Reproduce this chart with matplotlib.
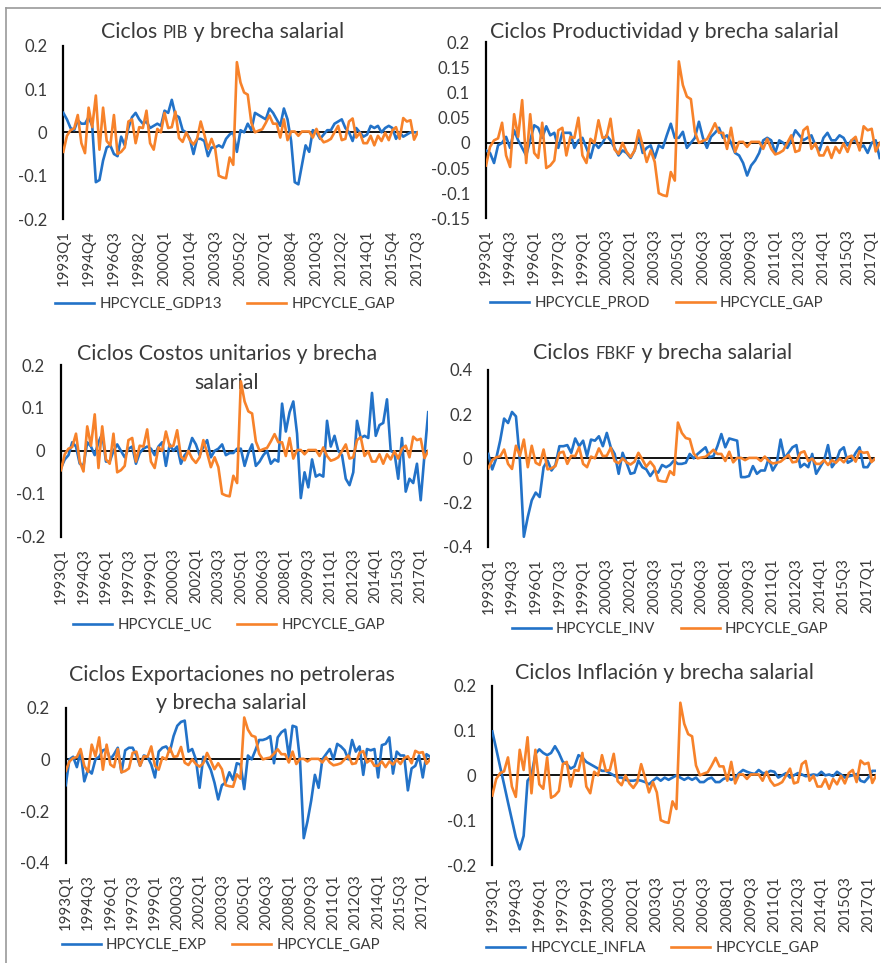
import matplotlib
matplotlib.use('Agg')
import matplotlib.pyplot as plt
from matplotlib.offsetbox import TextArea, HPacker, AnnotationBbox
from matplotlib.lines import Line2D

plt.rcParams['font.family'] = ['Lato', 'DejaVu Sans']

# ---------------- data ----------------
quarters = [f"{1993 + i // 4}Q{i % 4 + 1}" for i in range(99)]

gap = [-0.045, -0.008, 0.005, 0.009, 0.04, -0.025, -0.048, 0.057, 0.012, 0.085,
       -0.04, 0.057, -0.02, -0.03, 0.04, -0.05, -0.045, -0.035, 0.025, 0.03,
       -0.025, 0.012, 0.01, 0.05, -0.025, -0.04, 0.008, 0.0, 0.045, 0.01,
       0.012, 0.048, -0.013, -0.022, 0.0, -0.018, -0.028, -0.015, 0.025, -0.005,
       -0.038, -0.015, -0.038, -0.1, -0.104, -0.106, -0.058, -0.075, 0.162, 0.115,
       0.092, 0.087, 0.022, 0.0, 0.004, 0.007, 0.022, 0.039, 0.02, 0.02,
       -0.012, 0.03, -0.018, 0.002, 0.002, -0.008, 0.002, 0.002, 0.002, -0.012,
       0.008, -0.012, -0.023, -0.02, -0.015, 0.0, 0.015, -0.018, -0.015, 0.025,
       0.032, -0.012, -0.001, -0.025, -0.025, -0.008, -0.03, -0.008, -0.02, -0.001,
       -0.018, 0.005, 0.012, -0.015, 0.033, 0.025, 0.028, -0.017, 0.0]

gdp13 = [0.045, 0.03, 0.01, 0.005, 0.028, 0.02, 0.02, 0.035, 0.015, -0.115,
         -0.11, -0.065, -0.035, -0.03, -0.05, -0.055, -0.01, -0.03, 0.01, 0.035,
         0.045, 0.03, 0.02, 0.025, 0.01, 0.015, 0.02, 0.015, 0.05, 0.045,
         0.075, 0.04, 0.035, 0.005, 0.0, -0.015, -0.05, -0.015, -0.015, -0.02,
         -0.055, -0.035, -0.035, -0.03, -0.035, -0.015, -0.005, 0.0, -0.045, 0.005,
         0.0, 0.02, 0.005, 0.045, 0.04, 0.035, 0.03, 0.055, 0.045, 0.03,
         0.015, 0.055, 0.03, -0.02, -0.115, -0.12, -0.075, -0.03, -0.045, 0.005,
         0.0, -0.015, -0.005, 0.005, 0.005, 0.02, 0.025, 0.03, 0.01, 0.0,
         -0.02, 0.01, 0.0, -0.01, -0.005, 0.015, 0.01, 0.015, 0.0, 0.01,
         0.015, 0.01, -0.015, 0.0, -0.01, -0.005, 0.0, 0.0, 0.0]

prod = [-0.015, -0.02, -0.04, -0.005, 0.0, 0.012, -0.01, 0.025, 0.005, -0.01,
        -0.025, 0.005, 0.035, 0.03, 0.01, 0.033, 0.015, 0.02, -0.01, 0.02,
        0.02, 0.02, -0.01, 0.005, 0.01, -0.01, -0.03, 0.0, -0.01, 0.0,
        0.015, 0.005, -0.01, -0.025, -0.015, -0.02, -0.03, -0.015, 0.015, -0.02,
        -0.01, -0.005, -0.03, -0.005, -0.01, 0.015, 0.038, 0.01, 0.01, 0.022,
        -0.01, 0.0, 0.01, 0.042, 0.01, -0.01, 0.012, 0.02, 0.03, 0.01,
        0.015, 0.0, -0.02, -0.025, -0.04, -0.065, -0.045, -0.035, -0.02, 0.005,
        0.01, 0.005, -0.02, 0.005, 0.0, -0.01, 0.005, 0.025, 0.015, 0.005,
        0.01, 0.015, -0.005, -0.015, 0.01, 0.02, 0.005, 0.005, 0.015, 0.01,
        -0.005, 0.005, 0.005, -0.01, -0.005, -0.02, 0.0, 0.005, -0.03]

uc = [-0.04, -0.02, -0.01, 0.02, 0.01, -0.03, -0.035, 0.02, 0.01, -0.01,
      0.02, 0.04, -0.025, -0.025, 0.0, 0.015, 0.0, -0.015, 0.005, 0.01,
      -0.03, -0.005, 0.005, 0.01, 0.005, -0.01, 0.01, 0.02, -0.035, 0.015,
      0.0, 0.01, -0.03, -0.01, 0.0, 0.03, 0.015, -0.01, 0.01, 0.025,
      -0.015, 0.0, 0.005, 0.015, -0.01, -0.005, -0.005, 0.005, 0.005, -0.035,
      -0.005, 0.015, -0.035, -0.025, -0.01, 0.0, -0.03, -0.02, -0.025, 0.11,
      0.045, 0.09, 0.115, 0.04, -0.11, -0.05, -0.085, -0.02, -0.06, -0.055,
      -0.06, 0.07, 0.01, 0.035, 0.0, -0.01, -0.065, -0.08, -0.05, 0.07,
      0.03, 0.035, 0.03, 0.135, 0.035, 0.06, 0.065, 0.12, 0.0, -0.005,
      -0.065, 0.03, -0.095, -0.065, -0.075, -0.03, -0.115, -0.01, 0.09]

inv = [0.02, -0.05, 0.0, 0.08, 0.18, 0.16, 0.21, 0.19, -0.01, -0.355,
       -0.265, -0.19, -0.155, -0.175, -0.04, -0.01, -0.055, -0.03, 0.055, 0.055,
       0.06, 0.025, 0.09, 0.055, 0.08, 0.01, 0.085, 0.08, 0.1, 0.055,
       0.115, 0.05, 0.02, -0.07, 0.025, -0.02, -0.07, -0.065, -0.01, -0.04,
       -0.05, -0.08, -0.055, -0.065, -0.03, -0.04, -0.03, -0.01, -0.025, -0.025,
       -0.02, 0.02, 0.0, 0.02, 0.035, 0.05, 0.005, 0.01, 0.055, 0.11,
       0.05, 0.09, 0.085, 0.08, -0.085, -0.085, -0.08, -0.035, -0.07, -0.055,
       -0.055, 0.0, -0.055, -0.025, 0.085, 0.0, 0.025, 0.05, 0.06, -0.04,
       -0.025, -0.04, 0.02, -0.07, -0.04, -0.01, 0.06, -0.04, -0.015, 0.035,
       0.05, -0.02, -0.01, 0.025, 0.05, -0.04, -0.04, -0.01, -0.005]

exp_ = [-0.1, 0.0, 0.01, -0.03, 0.03, -0.085, -0.04, -0.055, 0.0, 0.01,
        0.035, 0.04, 0.0, 0.02, 0.045, -0.05, 0.035, 0.045, 0.045, 0.015,
        -0.025, 0.015, 0.01, -0.02, -0.07, 0.03, 0.045, 0.05, 0.03, 0.09,
        0.13, 0.145, 0.15, 0.03, 0.04, 0.0, -0.11, 0.01, -0.01, -0.04,
        -0.09, -0.155, -0.1, -0.09, -0.05, -0.08, -0.015, -0.02, -0.115, 0.015,
        0.0, 0.035, 0.075, 0.075, 0.08, 0.09, -0.015, 0.085, 0.105, 0.115,
        0.01, 0.13, 0.125, -0.005, -0.305, -0.24, -0.16, -0.06, -0.11, 0.0,
        0.02, 0.04, 0.0, 0.06, 0.05, 0.035, 0.0, 0.075, 0.03, 0.05,
        -0.06, 0.04, 0.035, 0.04, -0.07, 0.055, 0.06, 0.085, -0.055, 0.03,
        0.015, 0.015, -0.12, -0.035, -0.025, 0.015, -0.07, 0.02, 0.01]

infla = [0.098, 0.059, 0.019, -0.02, -0.06, -0.099, -0.138, -0.165, -0.135, -0.012,
         0.0, 0.048, 0.058, 0.05, 0.045, 0.05, 0.065, 0.05, 0.03, 0.025,
         0.015, 0.02, 0.045, 0.04, 0.03, 0.025, 0.02, 0.015, 0.01, 0.01,
         0.005, 0.0, -0.005, -0.005, -0.01, -0.012, -0.012, -0.01, -0.012, -0.015,
         -0.02, -0.012, -0.005, -0.012, -0.005, -0.01, -0.005, 0.0, -0.005, -0.01,
         -0.005, -0.01, -0.005, -0.015, -0.015, -0.008, -0.005, -0.015, -0.015, -0.008,
         -0.005, -0.01, -0.005, 0.005, 0.012, 0.008, 0.005, 0.003, 0.012, 0.005,
         0.005, 0.01, 0.008, -0.005, 0.0, 0.005, -0.005, 0.0, 0.005, 0.002,
         -0.002, 0.0, 0.002, 0.0, 0.008, 0.0, 0.002, -0.002, 0.008, 0.002,
         -0.005, -0.002, 0.0, 0.003, -0.012, -0.015, -0.005, 0.01, 0.01]

# ---------------- styling ----------------
W, H = 881, 963
fig = plt.figure(figsize=(W / 100, H / 100), dpi=100)
BLUE = '#2272C8'
ORANGE = '#F7822A'
TXT = '#3a3a3a'
TITLE_FS = 15.4
SMALL_FS = 12
YTICK_FS = 12
XTICK_FS = 10.8
LEG_FS = 10.8


def fx(px):
    return px / W


def fy(py):
    return 1 - py / H


def make_panel(x0, x1, ytop, ybot, series, label, ylim, yticks, ylabels,
               step, legend_xy):
    ax = fig.add_axes([fx(x0), fy(ybot), (x1 - x0) / W, (ybot - ytop) / H])
    ax.patch.set_alpha(0)
    xs = list(range(len(quarters)))
    ax.axhline(0, color='black', lw=1.3, zorder=1)
    ax.plot(xs, series, color=BLUE, lw=1.9, zorder=3, label=label)
    ax.plot(xs, gap, color=ORANGE, lw=1.9, zorder=3, label='HPCYCLE_GAP')
    ax.set_xlim(0, len(quarters) - 1)
    ax.set_ylim(*ylim)
    ax.set_yticks(yticks)
    ax.set_yticklabels(ylabels)
    ticks = list(range(0, len(quarters), step))
    ax.set_xticks(ticks)
    ax.set_xticklabels([quarters[i] for i in ticks], rotation=90)
    for s in ('top', 'right', 'bottom'):
        ax.spines[s].set_visible(False)
    ax.spines['left'].set_color('black')
    ax.spines['left'].set_linewidth(1.6)
    ax.tick_params(axis='y', length=0, pad=11.5, labelsize=YTICK_FS, labelcolor=TXT)
    ax.tick_params(axis='x', length=0, pad=8, labelsize=XTICK_FS, labelcolor=TXT)
    ax.legend(loc='center', bbox_to_anchor=(fx(legend_xy[0]), fy(legend_xy[1])),
              bbox_transform=fig.transFigure, ncol=2, frameon=False,
              handlelength=2.6, handletextpad=0.35, columnspacing=1.7,
              fontsize=LEG_FS, labelcolor=TXT, borderaxespad=0, borderpad=0)
    return ax


def title_parts(parts, cx, cy):
    areas = [TextArea(t, textprops=dict(size=s, color=TXT)) for t, s in parts]
    box = HPacker(children=areas, align='baseline', pad=0, sep=0)
    ab = AnnotationBbox(box, (fx(cx), fy(cy)), xycoords='figure fraction',
                        frameon=False, box_alignment=(0.5, 0.5), pad=0, zorder=-1)
    fig.add_artist(ab)


def title_line(text, cx, cy):
    fig.text(fx(cx), fy(cy), text, ha='center', va='center', size=TITLE_FS,
             color=TXT, zorder=-1)


y4 = [0.2, 0.1, 0.0, -0.1, -0.2]
y4l = ['0.2', '0.1', '0', '-0.1', '-0.2']

# Panel 1
make_panel(63.3, 417.7, 45.7, 219, gdp13, 'HPCYCLE_GDP13', (-0.2, 0.2), y4, y4l, 7,
           (225, 304))
title_parts([('Ciclos ', TITLE_FS), ('PIB', SMALL_FS), (' y brecha salarial', TITLE_FS)],
            222.5, 32)

# Panel 2
y2 = [0.2, 0.15, 0.1, 0.05, 0.0, -0.05, -0.1, -0.15]
y2l = ['0.2', '0.15', '0.1', '0.05', '0', '-0.05', '-0.1', '-0.15']
make_panel(486, 879.7, 42.3, 218.3, prod, 'HPCYCLE_PROD', (-0.15, 0.2), y2, y2l, 6,
           (657, 303))
title_line('Ciclos Productividad y brecha salarial', 664, 32)

# Panel 3
make_panel(61, 428.2, 365, 536.7, uc, 'HPCYCLE_UC', (-0.2, 0.2), y4, y4l, 6,
           (229, 625))
title_line('Ciclos Costos unitarios y brecha', 227, 354)
title_line('salarial', 227, 382.7)

# Panel 4
y3 = [0.4, 0.2, 0.0, -0.2, -0.4]
y3l = ['0.4', '0.2', '0', '-0.2', '-0.4']
make_panel(488.3, 875.4, 370, 546.7, inv, 'HPCYCLE_INV', (-0.4, 0.4), y3, y3l, 6,
           (670, 629))
title_parts([('Ciclos ', TITLE_FS), ('FBKF', SMALL_FS), (' y brecha salarial', TITLE_FS)],
            662.5, 352.7)

# Panel 5
y5 = [0.2, 0.0, -0.2, -0.4]
y5l = ['0.2', '0', '-0.2', '-0.4']
make_panel(65.7, 430.2, 707.7, 862.7, exp_, 'HPCYCLE_EXP', (-0.4, 0.2), y5, y5l, 6,
           (221, 945))
title_line('Ciclos Exportaciones no petroleras', 231.7, 675)
title_line('y brecha salarial', 231.7, 703)

# Panel 6
make_panel(492.3, 876.2, 685.7, 865, infla, 'HPCYCLE_INFLA', (-0.2, 0.2), y4, y4l, 6,
           (652.5, 948))
title_line('Ciclos Inflación y brecha salarial', 664, 673)

# outer frame (top and left edges)
fig.add_artist(Line2D([fx(6), fx(6)], [0, fy(8)], transform=fig.transFigure,
                      color='#9a9a9a', lw=1.2))
fig.add_artist(Line2D([fx(6), 1], [fy(8), fy(8)], transform=fig.transFigure,
                      color='#9a9a9a', lw=1.2))

fig.savefig('out.png', dpi=100, facecolor='white')
